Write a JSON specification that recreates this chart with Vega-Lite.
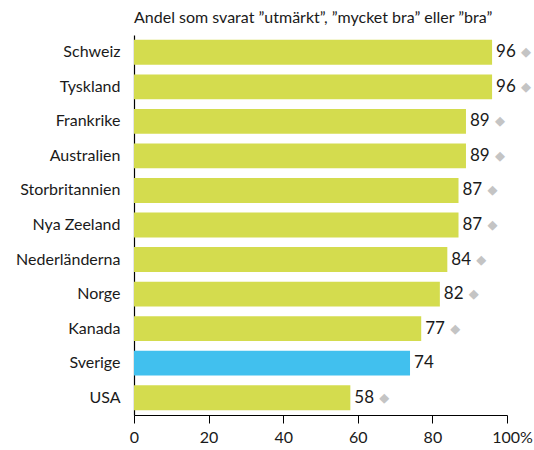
{
  "$schema": "https://vega.github.io/schema/vega-lite/v6.json",
  "width": 373,
  "height": 380,
  "autosize": "none",
  "padding": {"left": 134, "top": 35, "right": 27, "bottom": 35},
  "background": "white",
  "config": {
    "font": "Lato",
    "view": {"stroke": null}
  },
  "title": {
    "text": "Andel som svarat ”utmärkt”, ”mycket bra” eller ”bra”",
    "anchor": "start",
    "frame": "group",
    "fontSize": 16,
    "fontWeight": "normal",
    "color": "#1a1a1a",
    "offset": 9,
    "dx": 0
  },
  "data": {
    "values": [
      {"country": "Schweiz", "value": 96, "highlight": "no", "marker": true},
      {"country": "Tyskland", "value": 96, "highlight": "no", "marker": true},
      {"country": "Frankrike", "value": 89, "highlight": "no", "marker": true},
      {"country": "Australien", "value": 89, "highlight": "no", "marker": true},
      {"country": "Storbritannien", "value": 87, "highlight": "no", "marker": true},
      {"country": "Nya Zeeland", "value": 87, "highlight": "no", "marker": true},
      {"country": "Nederländerna", "value": 84, "highlight": "no", "marker": true},
      {"country": "Norge", "value": 82, "highlight": "no", "marker": true},
      {"country": "Kanada", "value": 77, "highlight": "no", "marker": true},
      {"country": "Sverige", "value": 74, "highlight": "yes", "marker": false},
      {"country": "USA", "value": 58, "highlight": "no", "marker": true}
    ]
  },
  "encoding": {
    "y": {
      "field": "country",
      "type": "nominal",
      "sort": null,
      "scale": {"paddingInner": 0.28, "paddingOuter": 0.14},
      "axis": {
        "title": null,
        "ticks": false,
        "domainColor": "#000000",
        "domainWidth": 1.2,
        "labelFontSize": 16,
        "labelColor": "#1a1a1a",
        "labelPadding": 14
      }
    },
    "x": {
      "field": "value",
      "type": "quantitative",
      "scale": {"domain": [0, 100], "nice": false},
      "axis": {
        "title": null,
        "values": [0, 20, 40, 60, 80, 100],
        "grid": false,
        "domainColor": "#000000",
        "domainWidth": 1,
        "tickColor": "#000000",
        "tickSize": 8,
        "labelFontSize": 16,
        "labelColor": "#1a1a1a",
        "labelPadding": 6,
        "labelExpr": "datum.value == 100 ? '100%' : datum.label",
        "labelOffset": {"condition": {"test": "datum.value == 100", "value": 5}, "value": 0},
        "labelFlush": false
      }
    }
  },
  "layer": [
    {
      "mark": {"type": "bar"},
      "encoding": {
        "color": {
          "field": "highlight",
          "type": "nominal",
          "scale": {"domain": ["no", "yes"], "range": ["#d4dc4e", "#41c0ee"]},
          "legend": null
        }
      }
    },
    {
      "mark": {"type": "text", "align": "left", "baseline": "middle", "dx": 4, "fontSize": 17, "color": "#1a1a1a"},
      "encoding": {"text": {"field": "value", "type": "quantitative"}}
    },
    {
      "transform": [{"filter": "datum.marker"}],
      "mark": {"type": "text", "align": "center", "baseline": "middle", "dx": 34, "dy": 0, "fontSize": 13, "font": "DejaVu Sans", "color": "#c4c4c4"},
      "encoding": {"text": {"value": "◆"}}
    }
  ]
}
